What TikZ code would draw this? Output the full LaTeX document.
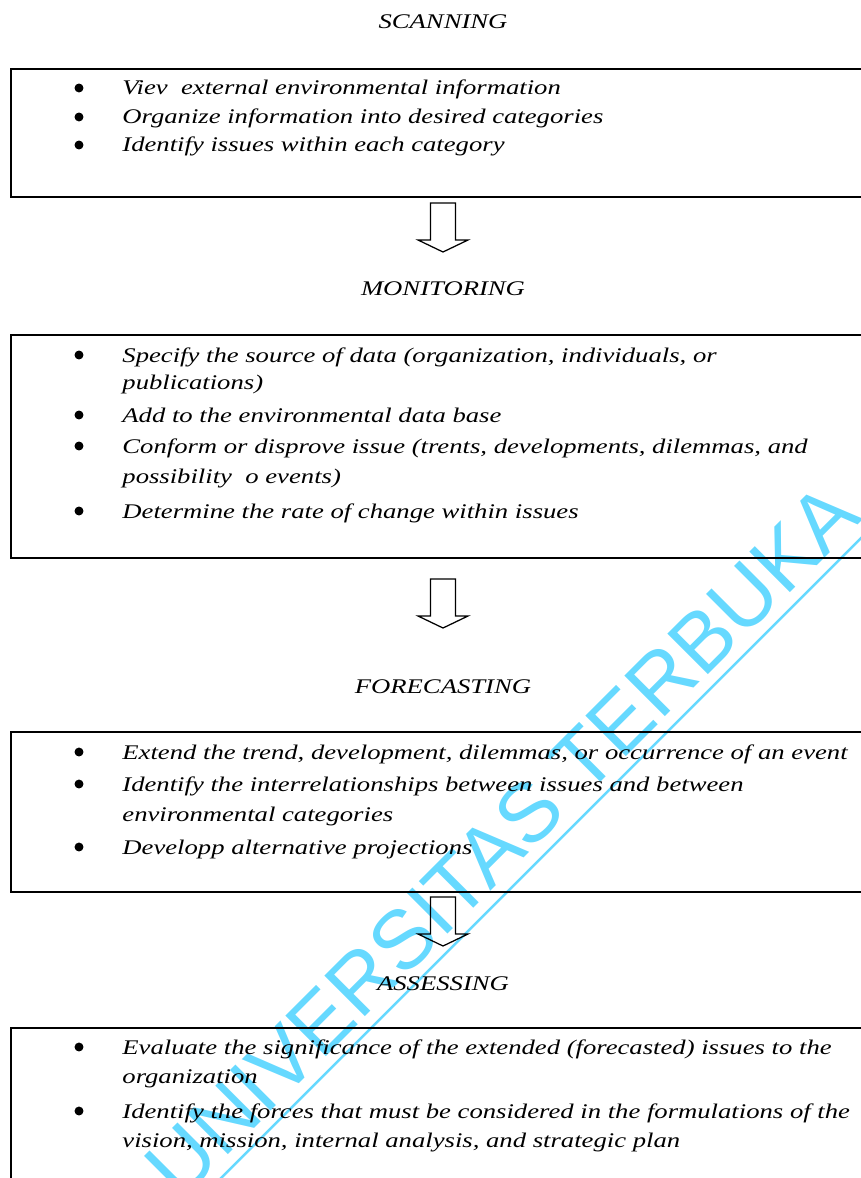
\documentclass[tikz,border=0pt]{standalone}
\usepackage{fontspec}
\setmainfont{Liberation Serif}[FakeStretch=1.28]
\newfontfamily\wmfont{Liberation Sans}
\usetikzlibrary{calc}
\definecolor{wmcyan}{RGB}{102,217,255}

\begin{document}
\begin{tikzpicture}[x=0.48pt, y=-0.48pt]
  \tikzstyle{ut_head} = [anchor=base,      inner sep=0pt, font=\itshape]
  \tikzstyle{ut_dot}  = [shape=circle, fill=black, inner sep=0pt, minimum size=4.3pt]
  \tikzstyle{ut_item} = [anchor=base west, inner sep=0pt, font=\itshape]
  \tikzstyle{ut_box}  = [draw=black, line width=1pt]
  \tikzstyle{ut_wm}   = [text=wmcyan, font=\wmfont\fontsize{40}{40}\selectfont,
                         inner xsep=0pt, inner ysep=5pt, rotate=45]
  \tikzset{ut_arrow/.pic = {
    \draw[line width=0.6pt, line join=miter]
      (-12.5,0) -- (12.5,0) -- (12.5,37) -- (25,37) -- (0,49)
      -- (-25,37) -- (-12.5,37) -- cycle;
  }}

  \useasboundingbox (0,0) rectangle (861,1178);

  % watermark
  \node[ut_wm] (wm) at (502,840) {UNIVERSITAS TERBUKA};
  \draw[wmcyan, line width=1.2pt]
    ($(wm.south west)!-0.3!(wm.south east)$) -- ($(wm.south east)!-0.3!(wm.south west)$);

  % scanning
  \node[ut_head] at (443,29) (scan_head) {SCANNING};
  \draw[ut_box] (11,69) coordinate (scan_nw) rectangle (900,197) coordinate (scan_se);
  \node[ut_dot]  at (79,88)    (scan_d1) {};
  \node[ut_item] at (122,95)   (scan_i1) {Viev~ external environmental information};
  \node[ut_dot]  at (79,117)   (scan_d2) {};
  \node[ut_item] at (122,124)  (scan_i2) {Organize information into desired categories};
  \node[ut_dot]  at (79,145)   (scan_d3) {};
  \node[ut_item] at (122,152)  (scan_i3) {Identify issues within each category};

  \pic at (443,203) {ut_arrow};

  % monitoring
  \node[ut_head] at (443,296) (mon_head) {MONITORING};
  \draw[ut_box] (11,335) coordinate (mon_nw) rectangle (900,558) coordinate (mon_se);
  \node[ut_dot]  at (79,355)   (mon_d1) {};
  \node[ut_item] at (122,362)  (mon_i1) {Specify the source of data (organization, individuals, or};
  \node[ut_item] at (122,389)  (mon_i1b) {publications)};
  \node[ut_dot]  at (79,415)   (mon_d2) {};
  \node[ut_item] at (122,422)  (mon_i2) {Add to the environmental data base};
  \node[ut_dot]  at (79,446)   (mon_d3) {};
  \node[ut_item] at (122,453)  (mon_i3) {Conform or disprove issue (trents, developments, dilemmas, and};
  \node[ut_item] at (122,483)  (mon_i3b) {possibility~ o events)};
  \node[ut_dot]  at (79,511)   (mon_d4) {};
  \node[ut_item] at (122,518)  (mon_i4) {Determine the rate of change within issues};

  \pic at (443,579) {ut_arrow};

  % forecasting
  \node[ut_head] at (443,693) (fore_head) {FORECASTING};
  \draw[ut_box] (11,732) coordinate (fore_nw) rectangle (900,892) coordinate (fore_se);
  \node[ut_dot]  at (79,752)   (fore_d1) {};
  \node[ut_item] at (122,759)  (fore_i1) {Extend the trend, development, dilemmas, or occurrence of an event};
  \node[ut_dot]  at (79,784)   (fore_d2) {};
  \node[ut_item] at (122,791)  (fore_i2) {Identify the interrelationships between issues and between};
  \node[ut_item] at (122,821)  (fore_i2b) {environmental categories};
  \node[ut_dot]  at (79,847)   (fore_d3) {};
  \node[ut_item] at (122,854)  (fore_i3) {Developp alternative projections};

  \pic at (443,897) {ut_arrow};

  % assessing
  \node[ut_head] at (443,990) (ass_head) {ASSESSING};
  \draw[ut_box] (11,1028) coordinate (ass_nw) rectangle (900,1250) coordinate (ass_se);
  \node[ut_dot]  at (79,1047)  (ass_d1) {};
  \node[ut_item] at (122,1054) (ass_i1) {Evaluate the significance of the extended (forecasted) issues to the};
  \node[ut_item] at (122,1083) (ass_i1b) {organization};
  \node[ut_dot]  at (79,1111)  (ass_d2) {};
  \node[ut_item] at (122,1118) (ass_i2) {Identify the forces that must be considered in the formulations of the};
  \node[ut_item] at (122,1147) (ass_i2b) {vision, mission, internal analysis, and strategic plan};
\end{tikzpicture}
\end{document}
